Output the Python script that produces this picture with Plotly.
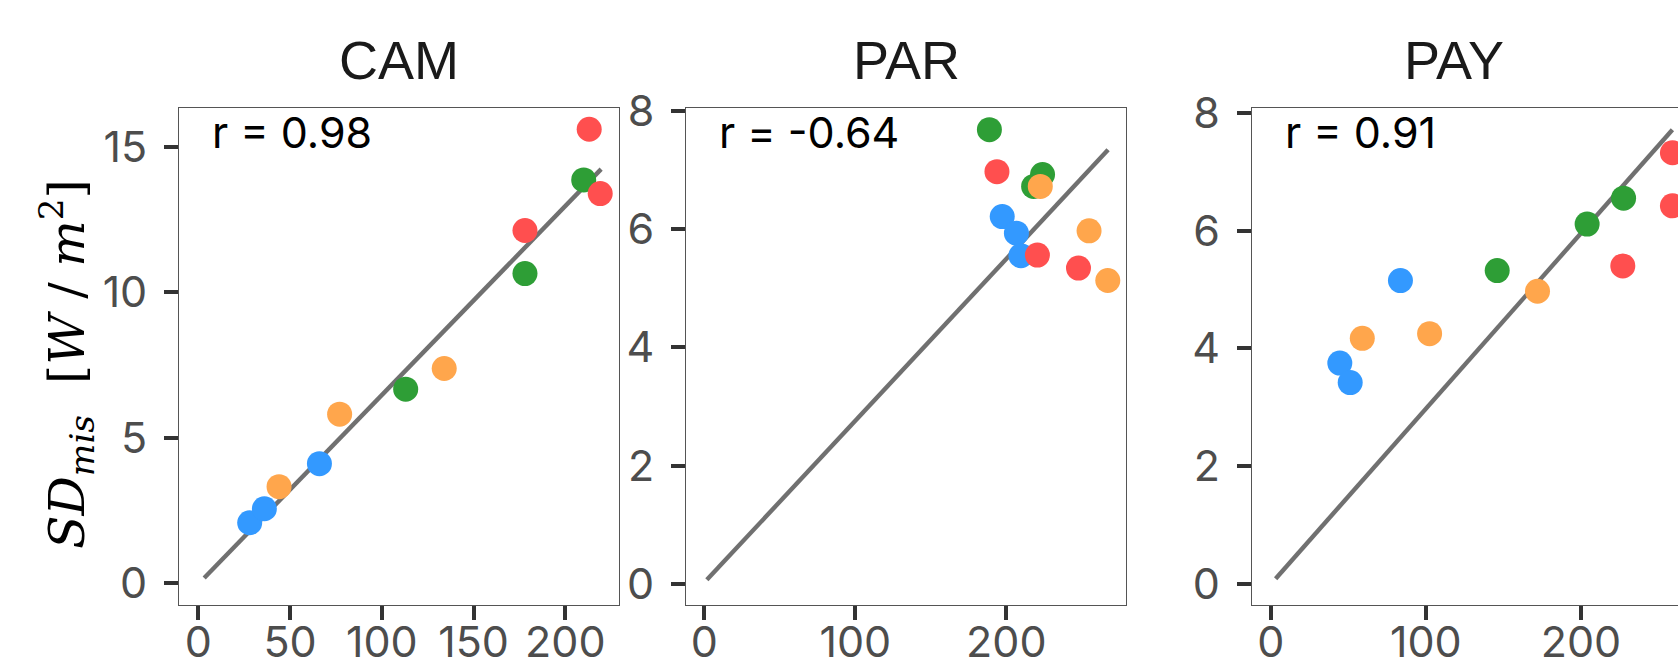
import plotly.graph_objects as go

W, H = 1678, 668

# ---------------- data ----------------
titles = ["CAM", "PAR", "PAY"]
r_labels = ["r = 0.98", "r = -0.64", "r = 0.91"]

cam_blue_x, cam_blue_y = [28, 36, 66], [2.08, 2.56, 4.11]
cam_green_x, cam_green_y = [113, 178, 210], [6.67, 10.64, 13.86]
cam_red_x, cam_red_y = [178, 213, 219], [12.12, 15.6, 13.39]
cam_orange_x, cam_orange_y = [44, 77, 134], [3.32, 5.81, 7.38]
cam_line_x, cam_line_y = [3.2, 219.5], [0.18, 14.23]

par_blue_x, par_blue_y = [197.3, 206.7, 209.7], [6.21, 5.93, 5.55]
par_green_x, par_green_y = [188.8, 224.0, 218.1], [7.68, 6.92, 6.72]
par_red_x, par_red_y = [193.8, 220.6, 247.8], [6.97, 5.56, 5.34]
par_orange_x, par_orange_y = [222.5, 254.8, 267.2], [6.72, 5.97, 5.13]
par_line_x, par_line_y = [1.7, 267.4], [0.07, 7.34]

pay_blue_x, pay_blue_y = [44.5, 51.2, 83.6], [3.75, 3.42, 5.15]
pay_green_x, pay_green_y = [146.0, 204.0, 227.5], [5.32, 6.11, 6.55]
pay_red_x, pay_red_y = [227.0, 259.0, 259.0], [5.40, 7.32, 6.42]
pay_orange_x, pay_orange_y = [59.0, 102.4, 172.0], [4.17, 4.25, 4.97]
pay_line_x, pay_line_y = [3.1, 259.0], [0.09, 7.71]

cam_xticks, cam_yticks = [0, 50, 100, 150, 200], [0, 5, 10, 15]
par_xticks, par_yticks = [0, 100, 200], [0, 2, 4, 6, 8]
pay_xticks, pay_yticks = [0, 100, 200], [0, 2, 4, 6, 8]

# ---------------- styles ----------------
col_blue, col_green, col_red, col_orange = "#3399FF", "#2E9E36", "#FF4F4F", "#FFA64C"
line_col = "#707070"
frame_col = "#555555"
tick_col = "#333333"
tick_font = dict(family="Inter, Liberation Sans, Arial", size=43, color="#4D4D4D")
r_font = dict(family="Inter, Liberation Sans, Arial", size=43, color="black")

# pixel layout
x_dom_px = [(179, 619.3), (686, 1125.6), (1251.7, 1678)]
y_top, y_bot = 108, 605
x_ranges = [[-10.52, 229.4], [-12.12, 279.0], [-12.32, 262.6]]
y_ranges = [[-0.746, 16.33], [-0.355, 8.046], [-0.356, 8.08]]
title_x_px = [399, 906, 1454]

panels = [
    dict(series=[(cam_blue_x, cam_blue_y, col_blue), (cam_green_x, cam_green_y, col_green),
                 (cam_red_x, cam_red_y, col_red), (cam_orange_x, cam_orange_y, col_orange)],
         line=(cam_line_x, cam_line_y), xt=cam_xticks, yt=cam_yticks),
    dict(series=[(par_blue_x, par_blue_y, col_blue), (par_green_x, par_green_y, col_green),
                 (par_red_x, par_red_y, col_red), (par_orange_x, par_orange_y, col_orange)],
         line=(par_line_x, par_line_y), xt=par_xticks, yt=par_yticks),
    dict(series=[(pay_blue_x, pay_blue_y, col_blue), (pay_green_x, pay_green_y, col_green),
                 (pay_red_x, pay_red_y, col_red), (pay_orange_x, pay_orange_y, col_orange)],
         line=(pay_line_x, pay_line_y), xt=pay_xticks, yt=pay_yticks),
]

fig = go.Figure()
layout = dict(width=W, height=H, margin=dict(l=0, r=0, t=0, b=0, autoexpand=False),
              paper_bgcolor="white", plot_bgcolor="white", showlegend=False)
annotations = []

for i, p in enumerate(panels):
    sfx = "" if i == 0 else str(i + 1)
    xa, ya = "x" + sfx, "y" + sfx
    lx, ly = p["line"]
    fig.add_trace(go.Scatter(x=lx, y=ly, mode="lines", xaxis=xa, yaxis=ya,
                             line=dict(color=line_col, width=4.4), hoverinfo="skip"))
    for sx, sy, c in p["series"]:
        fig.add_trace(go.Scatter(x=sx, y=sy, mode="markers", xaxis=xa, yaxis=ya,
                                 marker=dict(color=c, size=25, line=dict(width=0))))
    x0, x1 = x_dom_px[i]
    xd = [x0 / W, x1 / W]
    yd = [(H - y_bot) / H, (H - y_top) / H]
    layout["xaxis" + sfx] = dict(domain=xd, range=x_ranges[i], anchor=ya, tickvals=p["xt"],
                                 automargin=False, ticklabelstandoff=-15,
                                 showgrid=False, zeroline=False, showline=True, mirror=True,
                                 linecolor=frame_col, linewidth=1.3, ticks="outside",
                                 ticklen=14, tickwidth=4, tickcolor=tick_col, tickfont=tick_font)
    layout["yaxis" + sfx] = dict(domain=yd, range=y_ranges[i], anchor=xa, tickvals=p["yt"],
                                 automargin=False, ticklabelstandoff=8,
                                 showgrid=False, zeroline=False, showline=True, mirror=(i < 2),
                                 linecolor=frame_col, linewidth=1.3, ticks="outside",
                                 ticklen=14, tickwidth=4, tickcolor=tick_col, tickfont=tick_font)
    # panel title
    annotations.append(dict(text=titles[i], xref="paper", yref="paper",
                            x=title_x_px[i] / W, y=1 - 60 / H, xanchor="center", yanchor="middle",
                            showarrow=False,
                            font=dict(family="Liberation Sans, Arial", size=54, color="#1A1A1A")))
    # r label
    annotations.append(dict(text=r_labels[i], xref="paper", yref="paper",
                            x=(x0 + 31) / W, y=1 - 132 / H, xanchor="left", yanchor="middle",
                            showarrow=False, font=r_font))

annotations.append(dict(text="<i>SD</i><sub><i>mis</i></sub>  [<i>W</i> / <i>m</i><sup>2</sup>]",
                        xref="paper", yref="paper", x=66 / W, y=1 - 364 / H, textangle=-90,
                        xanchor="center", yanchor="middle", showarrow=False,
                        font=dict(family="DejaVu Serif", size=49, color="black")))
layout["annotations"] = annotations
fig.update_layout(**layout)
fig.write_html("out.html")
